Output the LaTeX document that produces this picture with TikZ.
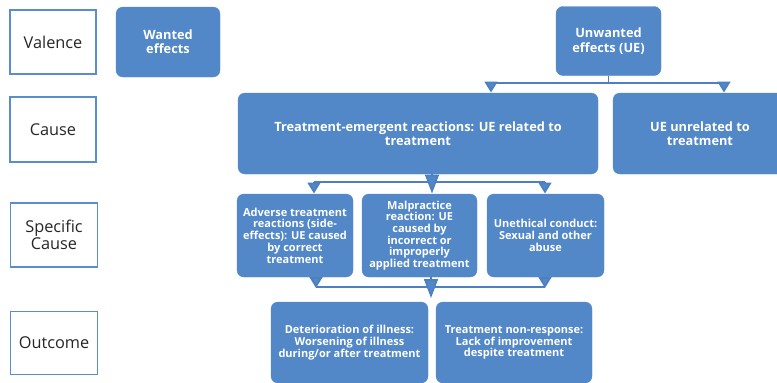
\documentclass[tikz,border=0pt]{standalone}
\usepackage{fontspec}
\setmainfont{Open Sans}
\usetikzlibrary{arrows.meta}
\definecolor{boxblue}{HTML}{5287C8}
\definecolor{lineblue}{HTML}{4D80C0}
\definecolor{labelblue}{HTML}{5B8DCC}
\tikzset{
  lbl/.style={draw=labelblue, line width=1.6pt, fill=white, text=black!85,
    font=\fontsize{16.3}{18}\selectfont, align=center, inner sep=0pt},
  bbox/.style={fill=boxblue, draw=boxblue, rounded corners=7pt, text=white,
    align=center, inner sep=1pt},
  bigtxt/.style={font=\bfseries\fontsize{12.8}{14.3}\selectfont},
  smalltxt/.style={font=\bfseries\fontsize{11}{11.7}\selectfont},
  conn/.style={draw=lineblue, line width=1.8pt},
  tipS/.style={conn, -{Triangle[length=11pt,width=13pt,fill=boxblue]}},
  tipL/.style={conn, -{Triangle[length=19pt,width=14pt,fill=boxblue]}},
}
\begin{document}
\begin{tikzpicture}[x=1pt,y=-1pt]
\useasboundingbox (0,0) rectangle (777,383);
% row labels
\node[lbl, minimum width=86pt, minimum height=64pt] (valence) at (53,42) {Valence};
\node[lbl, minimum width=86pt, minimum height=65pt] (cause) at (53,129.5) {Cause};
\node[lbl, minimum width=87pt, minimum height=64pt] (spec) at (54,235) {Specific\\[-1pt]Cause};
\node[lbl, minimum width=87pt, minimum height=63pt] (outc) at (54,343) {Outcome};
% valence row
\node[bbox, bigtxt, minimum width=104pt, minimum height=70pt] (wanted) at (168,42) {Wanted\\effects};
\node[bbox, bigtxt, minimum width=105pt, minimum height=69pt] (unwanted) at (608.5,41) {Unwanted\\effects (UE)};
% cause row
\node[bbox, bigtxt, minimum width=360pt, minimum height=81pt] (te) at (418,133.5) {Treatment-emergent reactions: UE related to\\treatment};
\node[bbox, bigtxt, minimum width=174pt, minimum height=81pt] (unrel) at (700,133.5) {UE unrelated to\\treatment};
% specific cause row
\node[bbox, smalltxt, minimum width=116pt, minimum height=83pt] (adverse) at (295,235.5) {Adverse treatment\\reactions (side-\\effects): UE caused\\by correct\\treatment};
\node[bbox, smalltxt, minimum width=115pt, minimum height=83pt] (malp) at (419.5,235.5) {Malpractice\\reaction: UE\\caused by\\incorrect or\\improperly\\applied treatment};
\node[bbox, smalltxt, minimum width=117pt, minimum height=83pt] (uneth) at (545.5,235.5) {Unethical conduct:\\Sexual and other\\abuse};
% outcome row
\node[bbox, smalltxt, minimum width=157pt, minimum height=81pt] (deter) at (349.5,342.5) {Deterioration of illness:\\Worsening of illness\\during/or after treatment};
\node[bbox, smalltxt, minimum width=156pt, minimum height=81pt] (nonr) at (514,342.5) {Treatment non-response:\\Lack of improvement\\despite treatment};
% connectors: valence -> cause
\coordinate (j1) at (608.5,83);
\coordinate (a1) at (491,92.5);
\coordinate (a2) at (724,92.5);
\draw[conn] (unwanted.south) -- (j1);
\draw[tipS] (j1) -| (a1);
\draw[tipS] (j1) -| (a2);
% connectors: cause -> specific cause
\coordinate (tb) at (432,173);
\coordinate (mt) at (432,193.5);
\coordinate (h1) at (314,182);
\coordinate (h2) at (545,182);
\coordinate (at) at (314,193.5);
\coordinate (ut) at (545,193.5);
\draw[conn] (h1) -- (h2);
\draw[tipS] (h1) -- (at);
\draw[tipS] (h2) -- (ut);
\draw[tipL] (tb) -- (mt);
% connectors: specific cause -> outcome
\coordinate (ab) at (316,276.5);
\coordinate (ub) at (545,276.5);
\coordinate (g1) at (316,288);
\coordinate (g2) at (545,288);
\coordinate (mb) at (431,276.5);
\coordinate (ot) at (431,298);
\coordinate (l1) at (316,287);
\coordinate (l2) at (545,287);
\draw[conn] (l1) -- (l2);
\draw[tipS] (ab) -- (g1);
\draw[tipS] (ub) -- (g2);
\draw[tipL] (mb) -- (ot);
\end{tikzpicture}
\end{document}
